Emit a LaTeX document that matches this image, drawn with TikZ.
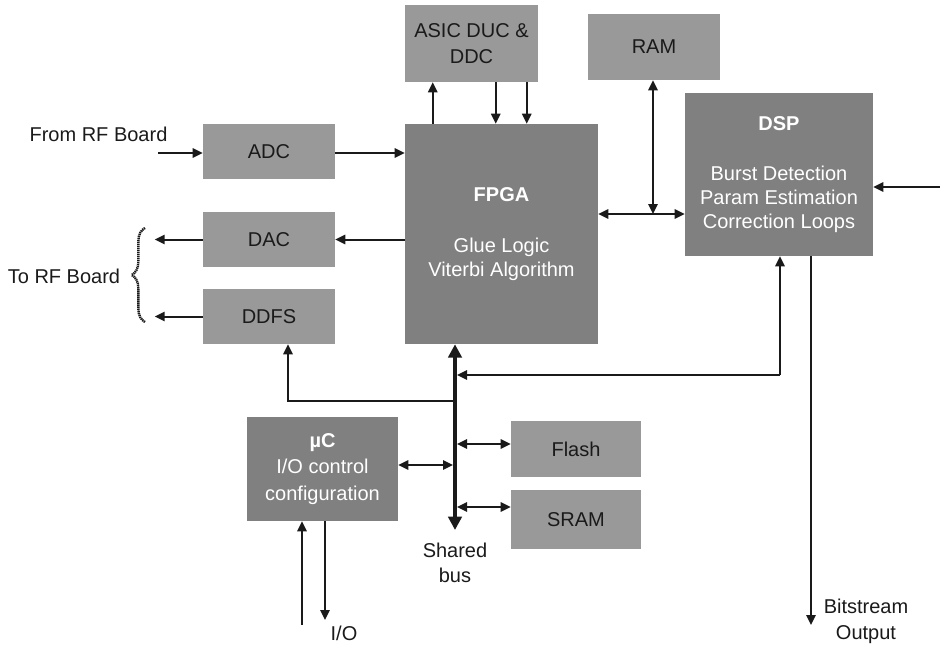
\documentclass[tikz,border=0pt]{standalone}
\usepackage{fontspec}
\setmainfont{Liberation Sans}
\usetikzlibrary{arrows.meta,calc,decorations.pathreplacing}
\definecolor{lgray}{HTML}{999999}
\definecolor{dgray}{HTML}{808080}
\definecolor{ink}{HTML}{1A1A1A}
\tikzset{
  box/.style={draw=none, inner sep=0pt, align=center, anchor=center},
  lbox/.style={box, fill=lgray, text=ink},
  dbox/.style={box, fill=dgray, text=white},
  arr/.style={line width=1.5pt, draw=ink, -{Triangle[length=7.5pt,width=7pt]}},
  darr/.style={line width=1.5pt, draw=ink, {Triangle[length=7.5pt,width=7pt]}-{Triangle[length=7.5pt,width=7pt]}},
  busline/.style={line width=3pt, draw=ink, {Triangle[length=10pt,width=10pt]}-{Triangle[length=10pt,width=10pt]}},
  lbl/.style={align=center, text=ink}
}
\begin{document}
\begin{tikzpicture}[x=0.75pt,y=-0.75pt,font=\fontsize{15}{18}\selectfont]
\useasboundingbox (0,0) rectangle (940,646);

% blocks
\node[lbox, minimum width=99.75pt, minimum height=57.75pt] (asic) at (471.5,43.5) {ASIC DUC \&\\[2pt]DDC};
\node[lbox, minimum width=99pt, minimum height=49.5pt] (ram) at (654,47) {RAM};
\node[dbox, minimum width=141pt, minimum height=122.25pt] (dsp) at (779,174.5)
  {\textbf{DSP}\\[19.5pt]Burst Detection\\Param Estimation\\Correction Loops};
\node[lbox, minimum width=99pt, minimum height=41.25pt] (adc) at (269,151.5) {ADC};
\node[dbox, minimum width=144.75pt, minimum height=165pt] (fpga) at (501.5,234)
  {\textbf{FPGA}\\[20pt]Glue Logic\\Viterbi Algorithm};
\node[lbox, minimum width=99pt, minimum height=41.25pt] (dac) at (269,239.5) {DAC};
\node[lbox, minimum width=99pt, minimum height=41.25pt] (ddfs) at (269,316.5) {DDFS};
\node[dbox, minimum width=113.25pt, minimum height=78pt] (uc) at (322.5,469)
  {\textbf{µC}\\[2pt]I/O control\\[2pt]configuration};
\node[lbox, minimum width=97.5pt, minimum height=42pt] (flash) at (576,449) {Flash};
\node[lbox, minimum width=97.5pt, minimum height=44.25pt] (sram) at (576,519.5) {SRAM};

% labels
\node[lbl] (rfin) at (98.5,134) {From RF Board};
\node[lbl] (rfout) at (64,276) {To RF Board};
\node[lbl] (shared) at (455,563) {Shared\\[0.75pt]bus};
\node[lbl] (iolbl) at (344,633) {I/O};
\node[lbl] (bits) at (866,621) {Bitstream\\[1.5pt]Output};

% free ends of connectors
\coordinate (rfsrc) at (158,153);
\coordinate (busx) at (455,0);
\coordinate (busbot) at (455,530);
\coordinate (junc) at (653,214);
\coordinate (dspin) at (940,187);
\coordinate (fb) at (780,375);
\coordinate (bsout) at (811,625);
\coordinate (ddtap) at (288,401);
\coordinate (ucy) at (0,465);
\coordinate (flashy) at (0,444);
\coordinate (sramy) at (0,507);
\coordinate (io1) at (302,625);
\coordinate (io2) at (325,620);
\coordinate (a1) at ($(asic.south west)+(28,0)$);
\coordinate (a2) at ($(asic.south west)+(91,0)$);
\coordinate (a3) at ($(asic.south west)+(122,0)$);

% RF side
\draw[arr] (rfsrc) -- (rfsrc -| adc.west);
\draw[arr] (rfsrc -| adc.east) -- (rfsrc -| fpga.west);
\draw[arr] (fpga.west |- dac.east) -- (dac.east);
\draw[arr] (dac.west) -- ++(-48,0);
\draw[arr] (ddfs.west) -- ++(-48,0);
\draw[ink, line width=1.8pt, dash pattern=on 1pt off 0.5pt, decorate, decoration={brace,amplitude=10pt}]
  (145,322) -- (145,228);

% ASIC links
\draw[arr] (a1 |- fpga.north) -- (a1);
\draw[arr] (a2) -- (a2 |- fpga.north);
\draw[arr] (a3) -- (a3 |- fpga.north);

% RAM / DSP links
\draw[darr] (fpga.east |- junc) -- (dsp.west |- junc);
\draw[darr] (ram.south -| junc) -- (junc);
\draw[arr] (dspin) -- (dspin -| dsp.east);
\draw[arr] (bsout |- dsp.south) -- (bsout);

% shared bus
\draw[busline] (busbot) -- (busbot |- fpga.south);
\draw[arr] (fb) -- ($(fb -| busx)+(2,0)$);
\draw[arr] (fb) -- (fb |- dsp.south);
\draw[arr] (ddtap -| busx) -- (ddtap) -- (ddtap |- ddfs.south);
\draw[darr] (uc.east |- ucy) -- ($(ucy -| busx)+(-2,0)$);
\draw[darr] ($(flashy -| busx)+(2,0)$) -- (flashy -| flash.west);
\draw[darr] ($(sramy -| busx)+(2,0)$) -- (sramy -| sram.west);

% I/O
\draw[arr] (io1) -- (io1 |- uc.south);
\draw[arr] (io2 |- uc.south) -- (io2);
\end{tikzpicture}
\end{document}
